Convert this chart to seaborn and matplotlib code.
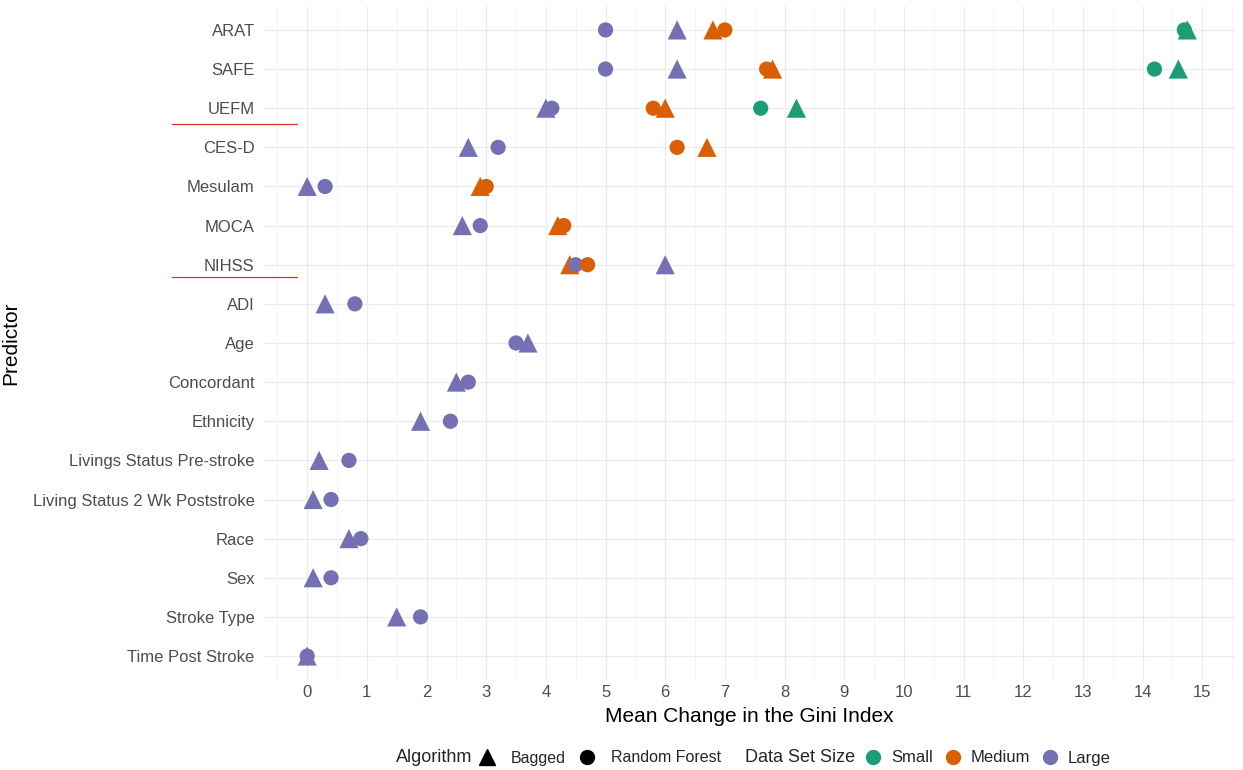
import numpy as np
import pandas as pd
import matplotlib
matplotlib.use('Agg')
import matplotlib.pyplot as plt
from matplotlib.lines import Line2D
import seaborn as sns

# data
predictors = ['ARAT', 'SAFE', 'UEFM', 'CES-D', 'Mesulam', 'MOCA', 'NIHSS', 'ADI', 'Age',
              'Concordant', 'Ethnicity', 'Livings Status Pre-stroke',
              'Living Status 2 Wk Poststroke', 'Race', 'Sex', 'Stroke Type', 'Time Post Stroke']
large_bagged = [6.2, 6.2, 4.0, 2.7, 0.0, 2.6, 6.0, 0.3, 3.7, 2.5, 1.9, 0.2, 0.1, 0.7, 0.1, 1.5, 0.0]
large_rf = [5.0, 5.0, 4.1, 3.2, 0.3, 2.9, 4.5, 0.8, 3.5, 2.7, 2.4, 0.7, 0.4, 0.9, 0.4, 1.9, 0.0]

medium_predictors = ['ARAT', 'SAFE', 'UEFM', 'CES-D', 'Mesulam', 'MOCA', 'NIHSS']
medium_bagged = [6.8, 7.8, 6.0, 6.7, 2.9, 4.2, 4.4]
medium_rf = [7.0, 7.7, 5.8, 6.2, 3.0, 4.3, 4.7]

small_predictors = ['ARAT', 'SAFE', 'UEFM']
small_bagged = [14.75, 14.6, 8.2]
small_rf = [14.7, 14.2, 7.6]

sizes = ['Small', 'Medium', 'Large']
algorithms = ['Bagged', 'Random Forest']
colors = {'Small': '#1B9E77', 'Medium': '#D95F02', 'Large': '#7570B3'}

parts = []
for preds, vals, size, alg in [
        (predictors, large_bagged, 'Large', 'Bagged'),
        (predictors, large_rf, 'Large', 'Random Forest'),
        (medium_predictors, medium_bagged, 'Medium', 'Bagged'),
        (medium_predictors, medium_rf, 'Medium', 'Random Forest'),
        (small_predictors, small_bagged, 'Small', 'Bagged'),
        (small_predictors, small_rf, 'Small', 'Random Forest')]:
    parts.append(pd.DataFrame({'Predictor': preds, 'Gini': vals, 'Size': size, 'Algorithm': alg}))
df = pd.concat(parts, ignore_index=True)
df['Predictor'] = pd.Categorical(df['Predictor'], categories=predictors, ordered=True)
df['ypos'] = df['Predictor'].cat.codes

sns.set_theme(style='white')
plt.rcParams['font.family'] = ['Liberation Sans', 'DejaVu Sans']

fig, ax = plt.subplots(figsize=(12.43, 7.7), dpi=100)
fig.subplots_adjust(left=0.2116, right=0.9936, top=0.9916, bottom=0.1175)

# triangles drawn a bit larger than circles, like ggplot shapes 17 / 16
sns.scatterplot(data=df[df['Algorithm'] == 'Bagged'], x='Gini', y='ypos', hue='Size',
                palette=colors, marker='^', s=190, linewidth=0, legend=False, ax=ax, zorder=3)
sns.scatterplot(data=df[df['Algorithm'] == 'Random Forest'], x='Gini', y='ypos', hue='Size',
                palette=colors, marker='o', s=120, linewidth=0, legend=False, ax=ax, zorder=3)

ax.set_yticks(range(len(predictors)))
ax.set_yticklabels(predictors)
ax.set_ylim(len(predictors) - 0.4, -0.6)
ax.set_xlim(-0.74, 15.55)
ax.set_xticks(range(0, 16))
ax.set_xticks(np.arange(-0.5, 16, 1), minor=True)

ax.grid(True, which='major', axis='both', color='#EBEBEB', linewidth=0.8)
ax.grid(True, which='minor', axis='x', color='#F2F2F2', linewidth=0.6)
ax.set_axisbelow(True)
for sp in ax.spines.values():
    sp.set_visible(False)
ax.tick_params(axis='both', which='both', length=0, labelsize=12, labelcolor='#4D4D4D')
ax.tick_params(axis='y', pad=6)
ax.tick_params(axis='x', pad=4)

ax.set_xlabel('Mean Change in the Gini Index', fontsize=15, color='black', labelpad=5)
ax.set_ylabel('Predictor', fontsize=15, color='black')
ax.yaxis.set_label_coords((20 - 263) / 972, 0.5)

# red underlines under UEFM and NIHSS
for yy in [123.5, 276.5]:
    fig.add_artist(Line2D([172 / 1243, 297 / 1243], [1 - yy / 770] * 2,
                          color='#E0302C', linewidth=0.9))

# bottom legend
ly = 1 - 758 / 770
fig.text(396 / 1243, ly, 'Algorithm', fontsize=13, va='center', ha='left')
alg_handles = [Line2D([], [], marker='^', color='black', linestyle='none', markersize=12),
               Line2D([], [], marker='o', color='black', linestyle='none', markersize=10)]
leg1 = fig.legend(alg_handles, algorithms, loc='center left', bbox_to_anchor=(479 / 1243, ly),
                  ncol=2, frameon=False, fontsize=11.5, handlelength=1.0, handletextpad=1.0,
                  columnspacing=0.8, borderpad=0, borderaxespad=0)
fig.text(745 / 1243, ly, 'Data Set Size', fontsize=13, va='center', ha='left')
size_handles = [Line2D([], [], marker='o', color=colors[s], linestyle='none', markersize=10)
                for s in sizes]
leg2 = fig.legend(size_handles, sizes, loc='center left', bbox_to_anchor=(865 / 1243, ly),
                  ncol=3, frameon=False, fontsize=12, handlelength=1.0, handletextpad=0.6,
                  columnspacing=0.65, borderpad=0, borderaxespad=0)

fig.savefig('out.png', dpi=100)
